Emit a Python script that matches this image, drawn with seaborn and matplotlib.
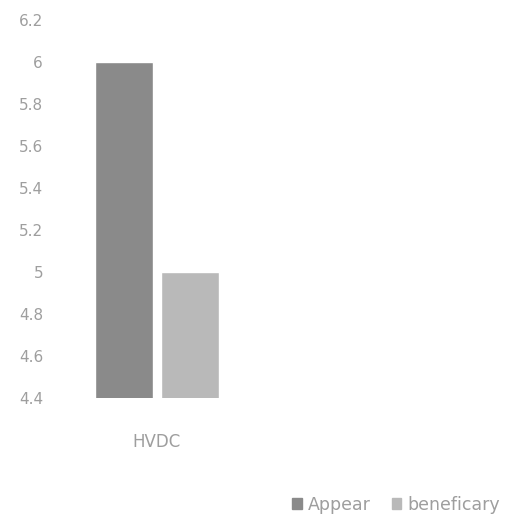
import pandas as pd
import matplotlib
matplotlib.use("Agg")
import matplotlib.pyplot as plt
import seaborn as sns

# data
categories = ["HVDC"]
series = ["Appear", "beneficary"]
appear_values = [6.0]
beneficary_values = [5.0]
y_ticks = [4.4, 4.6, 4.8, 5.0, 5.2, 5.4, 5.6, 5.8, 6.0, 6.2]
y_tick_labels = ["4.4", "4.6", "4.8", "5", "5.2", "5.4", "5.6", "5.8", "6", "6.2"]

df = pd.DataFrame({
    "category": categories * 2,
    "series": [series[0]] * len(categories) + [series[1]] * len(categories),
    "value": appear_values + beneficary_values,
})

sns.set_style("white")
plt.rcParams["font.family"] = ["DejaVu Sans"]

fig = plt.figure(figsize=(5.13, 5.19), dpi=100)
W, H = 513, 519
ax = fig.add_axes([50 / W, 121 / H, 455 / W, 378 / H])

palette = {"Appear": "#8a8a8a", "beneficary": "#b9b9b9"}
sns.barplot(data=df, x="category", y="value", hue="series", palette=palette,
            width=0.8, gap=0.12, ax=ax, legend=False)

ax.set_ylim(4.4, 6.2)
ax.set_xlim(-0.648, 2.11)
ax.set_yticks(y_ticks)
ax.set_yticklabels(y_tick_labels)
ax.set_xlabel("")
ax.set_ylabel("")
ax.tick_params(axis="both", length=0, colors="#9e9e9e", labelsize=11)
ax.tick_params(axis="y", pad=5)
ax.tick_params(axis="x", pad=25, labelsize=12)
sns.despine(ax=ax, left=True, bottom=True)

handles = [plt.Rectangle((0, 0), 1, 1, color=palette[s]) for s in series]
fig.legend(handles, series, loc="lower right", bbox_to_anchor=(1.005, -0.02),
           ncol=2, frameon=False, handlelength=0.55, handleheight=0.55,
           handletextpad=0.35, columnspacing=1.2, fontsize=12.5,
           labelcolor="#9e9e9e")

fig.savefig("out.png", dpi=100)
